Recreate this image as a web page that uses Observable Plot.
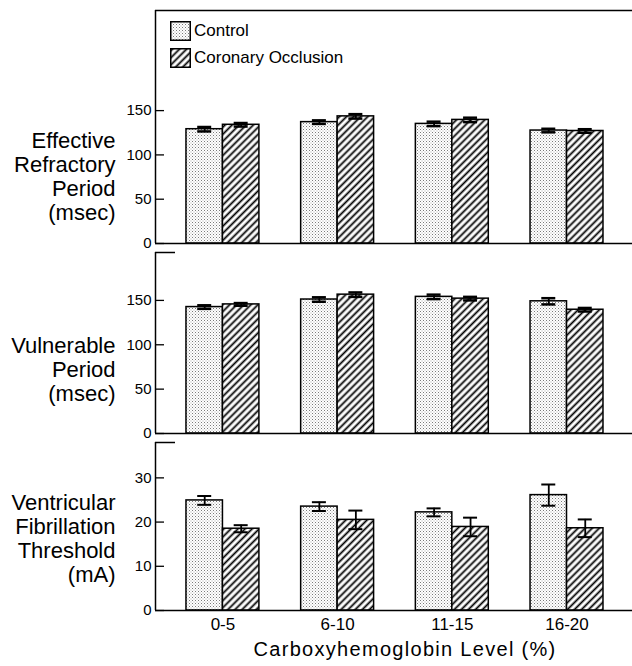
<!DOCTYPE html>
<html><head><meta charset="utf-8">
<script src="https://cdn.jsdelivr.net/npm/d3@7"></script>
<script src="https://cdn.jsdelivr.net/npm/@observablehq/plot@0.6"></script>
<style>
body{margin:0;background:#fff;}
#chart{position:relative;width:632px;height:666px;font-family:"Liberation Sans",Arial,sans-serif;color:#000;}
.panel{position:absolute;left:0;}
.legend-item{position:absolute;left:170px;display:flex;align-items:center;font-size:17px;}
.legend-item svg{display:block;margin-right:3px;}
</style></head><body>
<svg width="0" height="0" style="position:absolute">
<defs>
<pattern id="dots" width="3" height="3" patternUnits="userSpaceOnUse">
<rect width="3" height="3" fill="#fff"/>
<rect x="0" y="0" width="1" height="1" fill="#7a7a7a"/>
<rect x="1.5" y="1.5" width="1" height="1" fill="#a8a8a8"/>
</pattern>
<pattern id="hatch" width="5" height="5" patternUnits="userSpaceOnUse" patternTransform="rotate(45)">
<rect width="5" height="5" fill="#fff"/>
<line x1="2.5" y1="-1" x2="2.5" y2="6" stroke="#000" stroke-width="1.8"/>
</pattern>
</defs></svg>
<div id="chart">
  <div id="p1" class="panel" style="top:0px"></div>
  <div id="p2" class="panel" style="top:248px"></div>
  <div id="p3" class="panel" style="top:438px"></div>
  <div class="legend-item" style="top:21px"><svg width="21" height="20"><rect x="0.75" y="0.75" width="19.5" height="18.5" fill="url(#dots)" stroke="#000" stroke-width="1.5"/></svg><span>Control</span></div>
  <div class="legend-item" style="top:48px"><svg width="21" height="20"><rect x="0.75" y="0.75" width="19.5" height="18.5" fill="url(#hatch)" stroke="#000" stroke-width="1.5"/></svg><span>Coronary Occlusion</span></div>
</div>
<script>
// ---- data ----
const groups = ["0-5", "6-10", "11-15", "16-20"];
const seriesNames = ["Control", "Coronary Occlusion"];

const erpControl = [129, 137, 135, 127.5];
const erpControlSE = [2.5, 2, 2.5, 2];
const erpOcclusion = [134, 143.5, 139.5, 127];
const erpOcclusionSE = [2, 2.5, 2.5, 2];

const vpControl = [142.5, 151, 154, 149];
const vpControlSE = [2, 2.5, 2.5, 3.5];
const vpOcclusion = [145.5, 156.5, 152, 139.5];
const vpOcclusionSE = [1.5, 2.5, 2, 2];

const vftControl = [24.9, 23.5, 22.2, 26.1];
const vftControlSE = [1.0, 1.0, 0.9, 2.4];
const vftOcclusion = [18.5, 20.5, 18.9, 18.6];
const vftOcclusionSE = [0.8, 2.1, 2.1, 2.0];

const erpTicks = [0, 50, 100, 150];
const vpTicks = [0, 50, 100, 150];
const vftTicks = [0, 10, 20, 30];

const erpLabel = "Effective\nRefractory\nPeriod\n(msec)";
const vpLabel = "Vulnerable\nPeriod\n(msec)";
const vftLabel = "Ventricular\nFibrillation\nThreshold\n(mA)";
const xTitle = "Carboxyhemoglobin Level (%)";

// ---- layout ----
const W = 632, ML = 155;
const HALF = 0.318, CAP = 0.061;
const XDOM = [-0.588, 3.571];

function rowsOf(c, cse, o, ose) {
  return groups.flatMap((g, i) => [
    {g, i, s: seriesNames[0], v: c[i], se: cse[i]},
    {g, i, s: seriesNames[1], v: o[i], se: ose[i]}
  ]);
}
const x1 = d => d.s === seriesNames[0] ? d.i - HALF : d.i;
const x2 = d => d.s === seriesNames[0] ? d.i : d.i + HALF;
const xc = d => (x1(d) + x2(d)) / 2;

function panel({rows, yMax, ticks, label, labelDy, fullTop, height, marginTop, marginBottom, xAxis, capW}) {
  const marks = [
    Plot.rect(rows.filter(d => d.s === seriesNames[0]), {x1, x2, y1: 0, y2: "v", fill: "url(#dots)", stroke: "black", strokeWidth: 1.5}),
    Plot.rect(rows.filter(d => d.s === seriesNames[1]), {x1, x2, y1: 0, y2: "v", fill: "url(#hatch)", stroke: "black", strokeWidth: 1.5}),
    Plot.ruleX(rows, {x: xc, y1: d => d.v - d.se, y2: d => d.v + d.se, strokeWidth: 1.8}),
    Plot.ruleY(rows, {y: d => d.v + d.se, x1: d => xc(d) - CAP, x2: d => xc(d) + CAP, strokeWidth: capW}),
    Plot.ruleY(rows, {y: d => d.v - d.se, x1: d => xc(d) - CAP, x2: d => xc(d) + CAP, strokeWidth: capW}),
    Plot.ruleY([0], {strokeWidth: 1.5}),
    Plot.ruleX([XDOM[0]], {strokeWidth: 1.5}),
    Plot.axisY({ticks, tickSize: 0, tickPadding: 4, fontSize: 15, label: null}),
    Plot.tickY(ticks, {insetRight: W - ML - 9, strokeWidth: 1.3}),
    fullTop ? Plot.ruleY([yMax], {strokeWidth: 1.5}) : Plot.tickY([yMax], {insetRight: W - ML - 20, strokeWidth: 1.5}),
    Plot.text([label], {frameAnchor: "left", textAnchor: "end", dx: -40, dy: labelDy, fontSize: 22, lineHeight: 1.09})
  ];
  if (xAxis) {
    marks.push(Plot.axisX({ticks: groups.map((g, i) => i), tickFormat: i => groups[i], tickSize: 0, tickPadding: 7, fontSize: 17, label: null}));
    marks.push(Plot.text([xTitle], {frameAnchor: "bottom", dy: 45, dx: 11, fontSize: 20}));
  }
  return Plot.plot({
    width: W, height, marginLeft: ML, marginRight: 0, marginTop, marginBottom,
    x: {domain: XDOM, axis: xAxis ? undefined : null},
    y: {domain: [0, yMax]},
    style: {fontFamily: "'Liberation Sans', Arial, sans-serif", color: "black", background: "transparent", overflow: "visible"},
    marks
  });
}

const s1 = panel({rows: rowsOf(erpControl, erpControlSE, erpOcclusion, erpOcclusionSE), yMax: 263, ticks: erpTicks, label: erpLabel, labelDy: 49.5, fullTop: true, height: 248, marginTop: 10, marginBottom: 5, xAxis: false, capW: 2.5});
const s2 = panel({rows: rowsOf(vpControl, vpControlSE, vpOcclusion, vpOcclusionSE), yMax: 204, ticks: vpTicks, label: vpLabel, labelDy: 26, fullTop: false, height: 190, marginTop: 4, marginBottom: 5, xAxis: false, capW: 2.5});
const s3 = panel({rows: rowsOf(vftControl, vftControlSE, vftOcclusion, vftOcclusionSE), yMax: 38, ticks: vftTicks, label: vftLabel, labelDy: 11.5, fullTop: false, height: 228, marginTop: 4, marginBottom: 56, xAxis: true, capW: 2});

document.getElementById("p1").appendChild(s1);
document.getElementById("p2").appendChild(s2);
document.getElementById("p3").appendChild(s3);

d3.select(s3).selectAll("text").filter(function() { return this.textContent === xTitle; }).style("letter-spacing", "1.3px");
</script>
</body></html>
